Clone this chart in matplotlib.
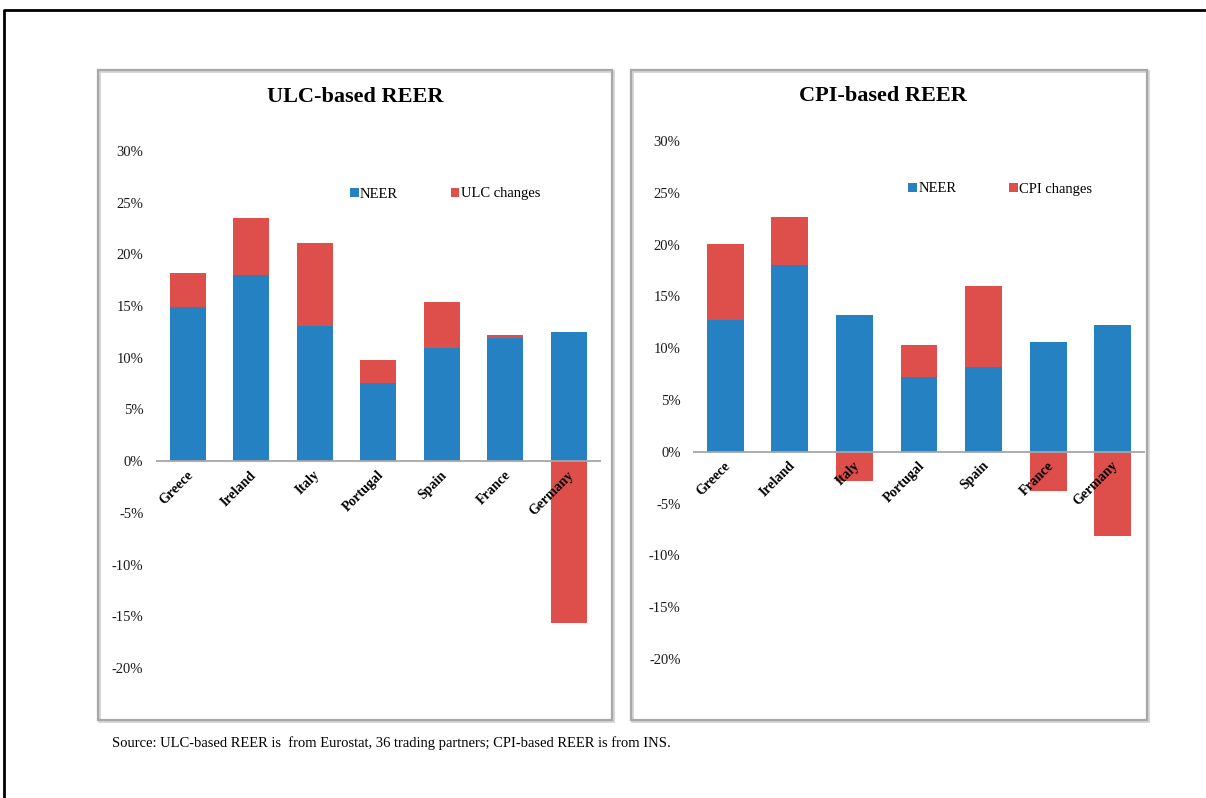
import matplotlib.pyplot as plt
from matplotlib.patches import Rectangle
from matplotlib.lines import Line2D
import numpy as np

plt.rcParams['font.family'] = ['Liberation Serif', 'DejaVu Serif']

countries = ['Greece', 'Ireland', 'Italy', 'Portugal', 'Spain', 'France', 'Germany']

# ULC-based REER, % change
ulc_neer = [14.9, 18.0, 13.1, 7.6, 10.9, 11.9, 12.5]
ulc_changes = [3.3, 5.5, 8.0, 2.2, 4.5, 0.3, -15.6]

# CPI-based REER, % change
cpi_neer = [12.7, 18.0, 13.2, 7.2, 8.2, 10.6, 12.2]
cpi_changes = [7.4, 4.7, -2.8, 3.1, 7.8, -3.8, -8.1]

yticks = [-20, -15, -10, -5, 0, 5, 10, 15, 20, 25, 30]

BLUE = '#2581C2'
RED = '#DE4F4C'

W, H = 1206, 798
fig = plt.figure(figsize=(W / 100, H / 100), dpi=100)


def px(x, y):
    return x / W, 1 - y / H


# page frame: only top and left edges are visible
fig.lines.append(Line2D([4 / W, 4 / W, 1], [0, 1 - 10 / H, 1 - 10 / H],
                        transform=fig.transFigure, color='black', linewidth=2))

# panel boxes
for x0, x1 in [(98, 612), (631, 1147)]:
    fig.patches.append(Rectangle(px(x0 + 1, 721), (x1 - x0) / W, 650 / H,
                                 transform=fig.transFigure, fill=False,
                                 edgecolor='#d4d4d4', linewidth=2))
    fig.patches.append(Rectangle(px(x0, 720), (x1 - x0) / W, 650 / H,
                                 transform=fig.transFigure, fill=False,
                                 edgecolor='#a8a8a8', linewidth=1.6))


def draw_panel(rect, title, title_xy, neer, changes, change_label, legend_xy):
    ax = fig.add_axes(rect)
    x = np.arange(len(countries))
    neer = np.array(neer)
    changes = np.array(changes)
    bottoms = np.where(changes >= 0, neer, 0)
    ax.bar(x, neer, width=0.57, color=BLUE, label='NEER', zorder=2)
    ax.bar(x, changes, width=0.57, bottom=bottoms, color=RED, label=change_label, zorder=2)
    ax.set_xlim(-0.5, len(countries) - 0.5)
    ax.set_ylim(-20, 30)
    for s in ax.spines.values():
        s.set_visible(False)
    ax.axhline(0, color='#a6a6a6', linewidth=1.3, zorder=3)
    ax.set_yticks(yticks)
    ax.set_yticklabels(['%d%%' % v for v in yticks], fontsize=10.5, color='#1a1a1a')
    ax.tick_params(axis='y', length=0, pad=9)
    ax.set_xticks([])
    for i, c in enumerate(countries):
        ax.text(i - 0.02, -0.7, c, rotation=45, ha='right', va='top',
                rotation_mode='anchor', fontsize=10, fontweight='bold')
    ax.legend(loc='center', bbox_to_anchor=legend_xy, bbox_transform=fig.transFigure,
              ncol=2, frameon=False, fontsize=10.5, handlelength=0.6, handleheight=0.6,
              handletextpad=0.1, columnspacing=3.6)
    fig.text(*px(*title_xy), title, ha='center', va='center', fontsize=16, fontweight='bold')
    return ax


draw_panel([156 / W, 1 - 668 / H, 444.5 / W, 517 / H], 'ULC-based REER', (355, 97),
           ulc_neer, ulc_changes, 'ULC changes', px(445, 194))
draw_panel([693 / W, 1 - 659 / H, 452 / W, 518 / H], 'CPI-based REER', (883, 96),
           cpi_neer, cpi_changes, 'CPI changes', px(1000, 189))

fig.text(*px(112, 743), 'Source: ULC-based REER is  from Eurostat, 36 trading partners; '
         'CPI-based REER is from INS.', ha='left', va='center', fontsize=10.5)

fig.savefig('out.png', dpi=100)
